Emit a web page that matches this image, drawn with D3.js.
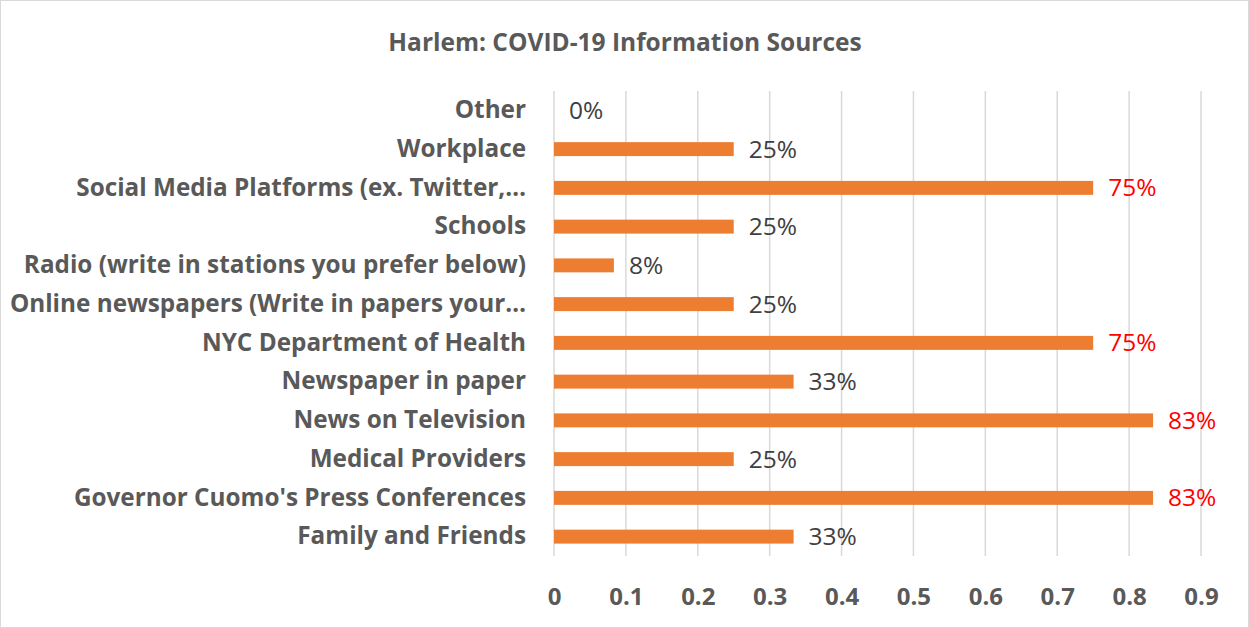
<!DOCTYPE html>
<html><head><meta charset="utf-8">
<script src="https://cdn.jsdelivr.net/npm/d3@7"></script>
<style>body{margin:0;background:#fff;}svg{display:block;}</style>
</head><body>
<script>
const categories = [
  "Other",
  "Workplace",
  "Social Media Platforms (ex. Twitter,…",
  "Schools",
  "Radio (write in stations you prefer below)",
  "Online newspapers (Write in papers your…",
  "NYC Department of Health",
  "Newspaper in paper",
  "News on Television",
  "Medical Providers",
  "Governor Cuomo's Press Conferences",
  "Family and Friends"
];
const values = [0, 0.25, 0.75, 0.25, 0.0833, 0.25, 0.75, 0.3333, 0.8333, 0.25, 0.8333, 0.3333];
const valueLabels = ["0%","25%","75%","25%","8%","25%","75%","33%","83%","25%","83%","33%"];
const highlighted = [false,false,true,false,false,false,true,false,true,false,true,false];
const tickValues = [0,0.1,0.2,0.3,0.4,0.5,0.6,0.7,0.8,0.9];
const title = "Harlem: COVID-19 Information Sources";

const W = 1249, H = 628;
const m = {left: 554, right: 48, top: 91, bottom: 72};
const svg = d3.select("body").append("svg").attr("width", W).attr("height", H);
svg.append("rect").attr("x",0.5).attr("y",0.5).attr("width",W-1).attr("height",H-1)
  .attr("fill","#fff").attr("stroke","#d9d9d9");

const x = d3.scaleLinear().domain([0,0.9]).range([m.left, W - m.right]);
const y = d3.scaleBand().domain(categories).range([m.top, H - m.bottom]).paddingInner(0.64).paddingOuter(0.32);

const font = "'Open Sans', sans-serif";

svg.append("text").attr("x", 625).attr("y", 42).attr("dy","0.35em").attr("text-anchor","middle")
  .attr("font-family", font).attr("font-weight","bold").attr("font-size", 24.5)
  .attr("fill","#595959").text(title);

// gridlines
svg.append("g").selectAll("line").data(tickValues).join("line")
  .attr("x1", d => x(d)).attr("x2", d => x(d))
  .attr("y1", m.top).attr("y2", H - m.bottom)
  .attr("stroke", "#d9d9d9").attr("stroke-width", 1.5);

// x axis labels
const xAxis = d3.axisBottom(x).tickValues(tickValues).tickSize(0).tickPadding(0)
  .tickFormat(d => d === 0 ? "0" : d3.format(".1f")(d));
const gx = svg.append("g").attr("transform", `translate(0,${H - m.bottom + 41})`).call(xAxis);
gx.select(".domain").remove();
gx.selectAll("text").attr("font-family", font).attr("font-weight","bold")
  .attr("font-size", 24).attr("fill","#595959").attr("dy","0.35em");

// y axis labels
const yAxis = d3.axisLeft(y).tickSize(0).tickPadding(28);
const gy = svg.append("g").attr("transform", `translate(${m.left},0)`).call(yAxis);
gy.select(".domain").remove();
gy.selectAll("text").attr("font-family", font).attr("font-weight","bold")
  .attr("font-size", 24.3).attr("fill","#595959");

// bars
svg.append("g").selectAll("rect").data(categories).join("rect")
  .attr("x", x(0)).attr("y", d => y(d))
  .attr("width", (d,i) => x(values[i]) - x(0)).attr("height", y.bandwidth())
  .attr("fill", "#ed7d31");

// data labels
svg.append("g").selectAll("text").data(categories).join("text")
  .attr("x", (d,i) => x(values[i]) + 15)
  .attr("y", d => y(d) + y.bandwidth()/2).attr("dy","0.35em")
  .attr("font-family", font).attr("font-size", 24.5)
  .attr("fill", (d,i) => highlighted[i] ? "#ff0000" : "#404040")
  .text((d,i) => valueLabels[i]);
</script>
</body></html>
